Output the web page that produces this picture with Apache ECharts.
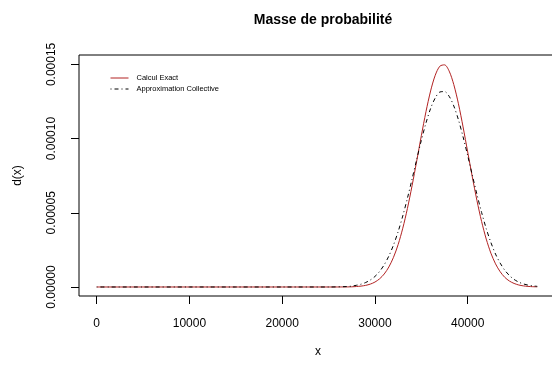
<!DOCTYPE html>
<html>
<head>
<meta charset="utf-8">
<script src="https://cdn.jsdelivr.net/npm/echarts@6/dist/echarts.min.js"></script>
<style>
  html, body { margin: 0; padding: 0; background: #fff; }
  #chart { width: 552px; height: 367px; }
</style>
</head>
<body>
<div id="chart"></div>
<script>
// Support of the distribution (x), shared by both curves
const xValues = [0, 5000, 10000, 15000, 20000, 25000, 27000, 27500,
  28000, 28500, 29000, 29500, 30000, 30500, 31000, 31500, 32000, 32500,
  33000, 33500, 34000, 34500, 35000, 35500, 36000, 36500, 37000, 37500,
  38000, 38500, 39000, 39500, 40000, 40500, 41000, 41500, 42000, 42500,
  43000, 43500, 44000, 44500, 45000, 45500, 46000, 46500, 47000, 47500];

// Exact probability mass
const exactValues = [0, 0, 0, 0, 0, 0, 0.00000005, 0.00000012,
  0.00000032, 0.0000006, 0.0000011, 0.00000195, 0.00000333, 0.0000055, 0.00000877, 0.0000135, 0.00002, 0.0000286,
  0.0000396, 0.0000529, 0.0000682, 0.0000848, 0.0001019, 0.0001181, 0.0001321, 0.0001427, 0.0001488, 0.0001497,
  0.0001455, 0.0001364, 0.0001235, 0.0001079, 0.000091, 0.0000741, 0.0000582, 0.0000441, 0.0000323, 0.0000228,
  0.0000156, 0.0000103, 0.0000065, 0.000004, 0.0000024, 0.00000136, 0.00000075, 0.0000004, 0.0000002, 0.0000001];

// Collective-model approximation
const approxValues = [0, 0, 0, 0, 0, 0, 0.0000003, 0.0000006,
  0.00000115, 0.00000189, 0.00000302, 0.0000047, 0.0000071, 0.00001047, 0.000015, 0.0000209, 0.0000283, 0.0000373,
  0.0000479, 0.0000598, 0.0000727, 0.0000859, 0.0000988, 0.0001105, 0.0001203, 0.0001274, 0.0001314, 0.0001317,
  0.0001285, 0.000122, 0.0001127, 0.0001012, 0.0000885, 0.0000753, 0.0000623, 0.0000502, 0.0000393, 0.00003,
  0.0000222, 0.0000161, 0.0000113, 0.0000077, 0.0000051, 0.0000033, 0.00000208, 0.00000127, 0.00000076, 0.00000044];

const xTicks = [0, 10000, 20000, 30000, 40000];
const yTicks = [0, 0.00005, 0.0001, 0.00015];

const pairs = (ys) => xValues.map((x, i) => [x, ys[i]]);
const FONT = 'Liberation Sans, Arial, sans-serif';

const chart = echarts.init(document.getElementById('chart'), null, { renderer: 'canvas' });
chart.setOption({
  animation: false,
  backgroundColor: '#fff',
  textStyle: { fontFamily: FONT },
  title: {
    text: 'Masse de probabilité',
    left: 318,
    textAlign: 'center',
    top: 8,
    textStyle: { fontFamily: FONT, fontWeight: 'bold', fontSize: 14, color: '#000' }
  },
  legend: {
    orient: 'vertical',
    left: 105,
    top: 68,
    itemWidth: 18,
    itemHeight: 10,
    itemGap: 1,
    itemStyle: { opacity: 0 },
    lineStyle: { width: 1 },
    textStyle: { fontFamily: FONT, fontSize: 7.5, color: '#000', lineHeight: 10, padding: [0, 0, 0, 3] },
    data: ['Calcul Exact', 'Approximation Collective']
  },
  grid: {
    left: 79, right: -5, top: 55, bottom: 71,
    show: true, borderColor: '#000', borderWidth: 1,
    outerBoundsMode: 'none', containLabel: false
  },
  xAxis: {
    type: 'value',
    min: -1908, max: 49628,
    name: 'x', nameLocation: 'middle', nameGap: 50,
    nameTextStyle: { fontFamily: FONT, fontSize: 12, color: '#000' },
    axisLine: { show: false, onZero: false },
    splitLine: { show: false },
    axisTick: { show: true, inside: false, length: 8, customValues: xTicks, lineStyle: { color: '#000' } },
    axisLabel: {
      customValues: xTicks, margin: 22, fontSize: 12, color: '#000', fontFamily: FONT,
      formatter: (v) => String(v)
    }
  },
  yAxis: {
    type: 'value',
    min: -0.00000607, max: 0.00015634,
    name: 'd(x)', nameLocation: 'middle', nameGap: 55,
    nameTextStyle: { fontFamily: FONT, fontSize: 12, color: '#000' },
    axisLine: { show: false, onZero: false },
    splitLine: { show: false },
    axisTick: { show: true, inside: false, length: 8, customValues: yTicks, lineStyle: { color: '#000' } },
    axisLabel: {
      customValues: yTicks, rotate: 90, margin: 21, fontSize: 12, color: '#000', fontFamily: FONT,
      formatter: (v) => v.toFixed(5)
    }
  },
  series: [
    {
      name: 'Calcul Exact', type: 'line', data: pairs(exactValues),
      showSymbol: false, symbol: 'none', smooth: 0.3,
      lineStyle: { color: '#B22222', width: 1 }, itemStyle: { color: '#B22222' }
    },
    {
      name: 'Approximation Collective', type: 'line', data: pairs(approxValues),
      showSymbol: false, symbol: 'none', smooth: 0.3,
      lineStyle: { color: '#000', width: 1, type: [1, 3, 4, 3] }, itemStyle: { color: '#000' }
    }
  ]
});
</script>
</body>
</html>
